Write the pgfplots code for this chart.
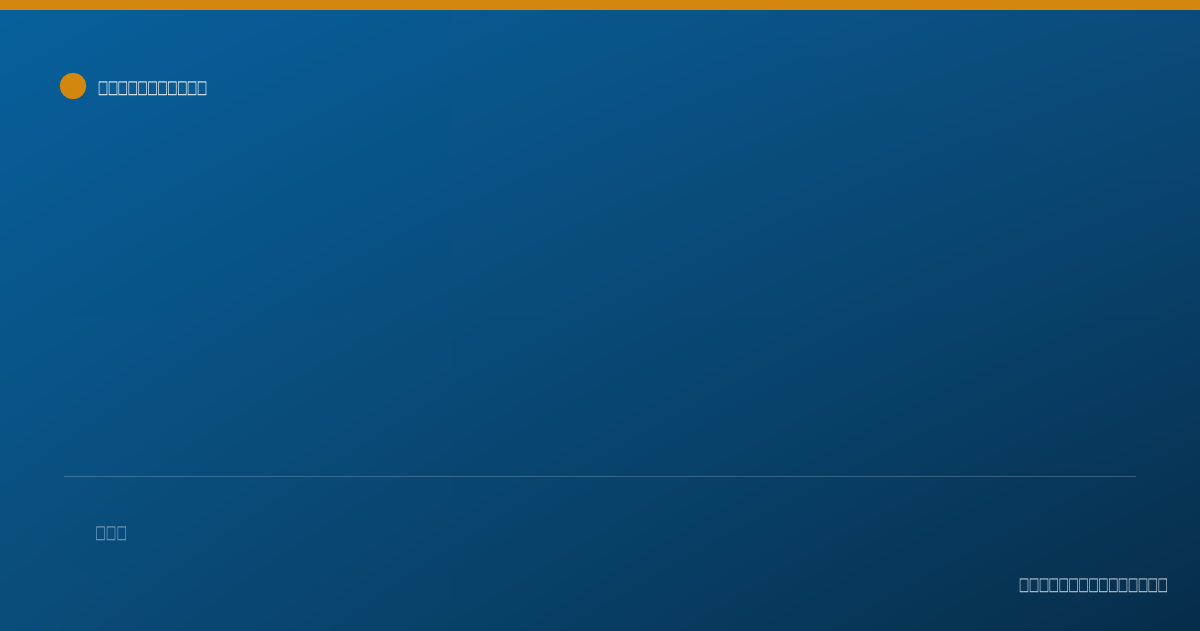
\documentclass[border=0pt]{standalone}
\usepackage{pgfplots}
\pgfplotsset{compat=1.18}
\usetikzlibrary{shadings}
\usepackage{fontspec}
\setmainfont{DejaVu Sans}
\definecolor{bgTL}{HTML}{07609C}
\definecolor{bgBR}{HTML}{062D4A}
\definecolor{bgTR}{HTML}{0B4C7C}
\definecolor{bgBL}{HTML}{0A4C7A}
\definecolor{accent}{HTML}{D4870F}
\newcommand{\tb}{\makebox[9.9pt][c]{\scalebox{0.62}[1]{□}}}
\newcommand{\tbw}{\makebox[10.7pt][c]{\scalebox{0.62}[1]{□}}}
\begin{document}
\begin{tikzpicture}
\begin{axis}[
  scale only axis, width=1200pt, height=630pt,
  xmin=0, xmax=1200, ymin=0, ymax=630, y dir=reverse,
  hide axis, clip=false,
]
\shade[upper left=bgTL, lower right=bgBR, upper right=bgTR, lower left=bgBL]
  (axis cs:0,0) rectangle (axis cs:1200,630);
\fill[accent] (axis cs:0,0) rectangle (axis cs:1200,10);
% separator line
\addplot[white, opacity=0.2, line width=1pt] coordinates {(64,476) (1136,476)};
% legend marker
\addplot[only marks, mark=*, mark size=13pt, mark options={fill=accent, draw=accent}] coordinates {(73,86)};
\node[anchor=west, text=white, font=\fontsize{18}{20}\selectfont, inner sep=0pt] at (axis cs:98,89) {\tb\tb\tb\tb\tb\tb\tb\tb\tb\tb\tb};
\node[anchor=west, text=white, opacity=0.5, font=\fontsize{18}{20}\selectfont, inner sep=0pt] at (axis cs:95,534) {\tbw\tbw\tbw};
\node[anchor=east, text=white, opacity=0.8, font=\fontsize{18}{20}\selectfont, inner sep=0pt] at (axis cs:1168,586) {\tb\tb\tb\tb\tb\tb\tb\tb\tb\tb\tb\tb\tb\tb\tb};
\end{axis}
\end{tikzpicture}
\end{document}
